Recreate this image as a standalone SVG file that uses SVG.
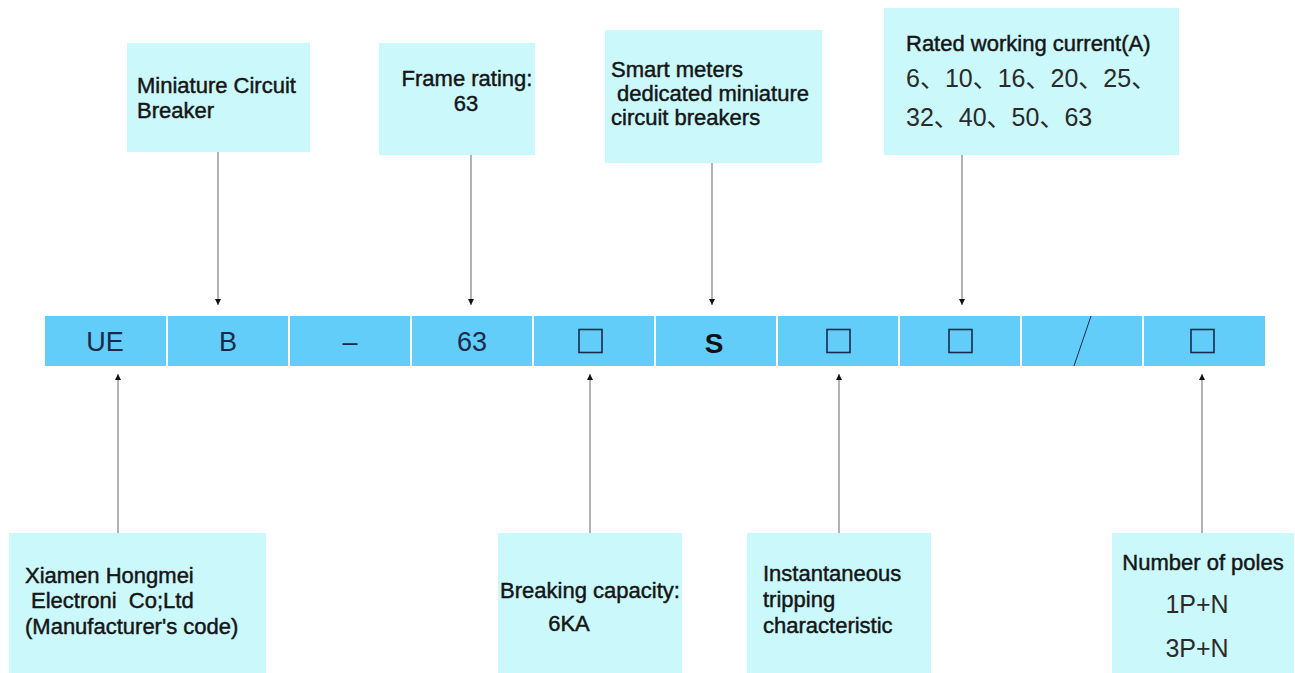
<svg xmlns="http://www.w3.org/2000/svg" width="1295" height="673" viewBox="0 0 1295 673">
<defs>
<style>
.box{fill:#cbf8fb}
.cell{fill:#62cdf8}
.lbl{font-family:"Liberation Sans",Arial,sans-serif;font-size:22px;fill:#151515;stroke:#151515;stroke-width:0.45px}
.num{font-family:"Liberation Sans","Noto Sans CJK SC",sans-serif;font-size:25px;fill:#2a2a2a}
.ct{font-family:"Liberation Sans",Arial,sans-serif;font-size:27px;fill:#1b2a4a;text-anchor:middle}
.sb{font-family:"Liberation Sans",Arial,sans-serif;font-size:28px;font-weight:bold;fill:#111;text-anchor:middle}
.sq{fill:none;stroke:#1b2a4a;stroke-width:1.6}
.conn{stroke:#666;stroke-width:1;fill:none}
.mid{text-anchor:middle}
</style>
<marker id="ah" viewBox="0 0 10 10" refX="10" refY="5" markerWidth="6" markerHeight="9" markerUnits="userSpaceOnUse" orient="auto"><path d="M0,0 L10,5 L0,10 z" fill="#111"/></marker>
</defs>
<rect width="1295" height="673" fill="#fff"/>

<g id="code-bar">
<g id="cell-ue"><rect class="cell" x="45" y="316" width="121" height="50"/><text class="ct" x="105" y="351">UE</text></g>
<g id="cell-b"><rect class="cell" x="168" y="316" width="120" height="50"/><text class="ct" x="228" y="351">B</text></g>
<g id="cell-dash"><rect class="cell" x="290" y="316" width="120" height="50"/><text class="ct" x="350" y="351">–</text></g>
<g id="cell-63"><rect class="cell" x="412" y="316" width="120" height="50"/><text class="ct" x="472" y="351">63</text></g>
<g id="cell-bc"><rect class="cell" x="534" y="316" width="120" height="50"/><rect class="sq" x="579" y="329.5" width="23" height="23"/></g>
<g id="cell-s"><rect class="cell" x="656" y="316" width="120" height="50"/><text class="sb" x="714" y="353">S</text></g>
<g id="cell-trip"><rect class="cell" x="778" y="316" width="120" height="50"/><rect class="sq" x="827" y="329.5" width="23" height="23"/></g>
<g id="cell-cur"><rect class="cell" x="900" y="316" width="120" height="50"/><rect class="sq" x="949" y="329.5" width="23" height="23"/></g>
<g id="cell-slash"><rect class="cell" x="1022" y="316" width="120" height="50"/><line x1="1091" y1="316" x2="1074" y2="366" stroke="#1b2a4a" stroke-width="1"/></g>
<g id="cell-poles"><rect class="cell" x="1144" y="316" width="121" height="50"/><rect class="sq" x="1191" y="329.5" width="23" height="23"/></g>
</g>

<g id="connectors">
<line class="conn" x1="218" y1="152" x2="218" y2="305" marker-end="url(#ah)"/>
<line class="conn" x1="471" y1="155" x2="471" y2="305" marker-end="url(#ah)"/>
<line class="conn" x1="712" y1="163" x2="712" y2="305" marker-end="url(#ah)"/>
<line class="conn" x1="962" y1="155" x2="962" y2="305" marker-end="url(#ah)"/>
<line class="conn" x1="118" y1="533" x2="118" y2="374" marker-end="url(#ah)"/>
<line class="conn" x1="590" y1="533" x2="590" y2="374" marker-end="url(#ah)"/>
<line class="conn" x1="839" y1="533" x2="839" y2="374" marker-end="url(#ah)"/>
<line class="conn" x1="1202" y1="533" x2="1202" y2="374" marker-end="url(#ah)"/>
</g>

<g id="node-mcb">
<rect class="box" x="127" y="43" width="183" height="109"/>
<text class="lbl" x="137" y="93">Miniature Circuit</text>
<text class="lbl" x="137" y="118">Breaker</text>
</g>
<g id="node-frame">
<rect class="box" x="379" y="43" width="156" height="112"/>
<text class="lbl mid" x="467" y="86">Frame rating:</text>
<text class="lbl mid" x="466" y="111">63</text>
</g>
<g id="node-smart">
<rect class="box" x="605" y="30" width="217" height="133"/>
<text class="lbl" x="611" y="77">Smart meters</text>
<text class="lbl" x="617" y="101">dedicated miniature</text>
<text class="lbl" x="611" y="125">circuit breakers</text>
</g>
<g id="node-current">
<rect class="box" x="884" y="8" width="295" height="147"/>
<text class="lbl" x="906" y="51">Rated working current(A)</text>
<text class="num" x="906" y="87">6、10、16、20、25、</text>
<text class="num" x="906" y="126">32、40、50、63</text>
</g>
<g id="node-maker">
<rect class="box" x="9" y="533" width="257" height="140"/>
<text class="lbl" x="25" y="583">Xiamen Hongmei</text>
<text class="lbl" x="31" y="608" style="white-space:pre">Electroni  Co;Ltd</text>
<text class="lbl" x="25" y="634">(Manufacturer's code)</text>
</g>
<g id="node-breaking">
<rect class="box" x="498" y="533" width="184" height="140"/>
<text class="lbl mid" x="590" y="598">Breaking capacity:</text>
<text class="lbl mid" x="569" y="631">6KA</text>
</g>
<g id="node-trip">
<rect class="box" x="747" y="533" width="184" height="140"/>
<text class="lbl" x="763" y="581">Instantaneous</text>
<text class="lbl" x="763" y="607">tripping</text>
<text class="lbl" x="763" y="633">characteristic</text>
</g>
<g id="node-poles">
<rect class="box" x="1112" y="533" width="182" height="140"/>
<text class="lbl mid" x="1203" y="570">Number of poles</text>
<text class="num mid" x="1197" y="613">1P+N</text>
<text class="num mid" x="1197" y="657">3P+N</text>
</g>
</svg>
